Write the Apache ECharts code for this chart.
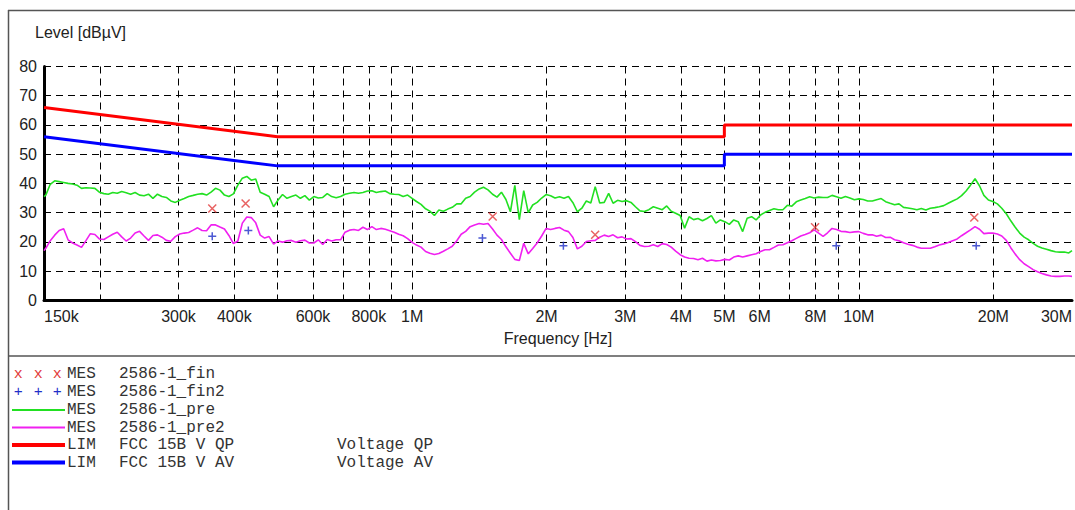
<!DOCTYPE html>
<html><head><meta charset="utf-8">
<script src="https://cdn.jsdelivr.net/npm/echarts@6/dist/echarts.min.js"></script>
<style>html,body{margin:0;padding:0;background:#fff}#c{width:1075px;height:510px}</style>
</head><body><div id="c"></div>
<script>
// Frequencies of the scans (kHz)
const FREQ_KHZ = [150,
151.4,154.9,158.5,162.2,166.0,169.8,173.8,177.8,182.0,186.2,190.5,195.0,199.5,204.2,208.9,213.8,218.8,223.9,229.1,234.4,239.9,245.5,251.2,257.0,263.0,269.2,275.4,281.8,288.4,295.1,302.0,309.0,316.2,323.6,331.1,338.8,346.7,354.8,363.1,371.5,380.2,389.0,398.1,407.4,416.9,426.6,436.5,446.7,457.1,467.7,478.6,489.8,501.2,512.9,524.8,537.0,549.5,562.3,575.4,588.8,602.6,616.6,631.0,645.7,660.7,676.1,691.8,707.9,724.4,741.3,758.6,776.2,794.3,812.8,831.8,851.1,871.0,891.3,912.0,933.3,955.0,977.2,
1000,1023,1047,1072,1096,1122,1148,1175,1202,1230,1259,1288,1318,1349,1380,1413,1445,1479,1514,1549,1585,1622,1660,1698,1738,1778,1820,1862,1905,1950,1995,2042,2089,2138,2188,2239,2291,2344,2399,2455,2512,2570,2630,2692,2754,2818,2884,2951,3020,3090,3162,3236,3311,3388,3467,3548,3631,3715,3802,3890,3981,4074,4169,4266,4365,4467,4571,4677,4786,4898,5012,5129,5248,5370,5495,5623,5754,5888,6026,6166,6310,6457,6607,6761,6918,7079,7244,7413,7586,7762,7943,8128,8318,8511,8710,8913,9120,9333,9550,9772,
10000,10230,10470,10720,10960,11220,11480,11750,12020,12300,12590,12880,13180,13490,13800,14130,14450,14790,15140,15490,15850,16220,16600,16980,17380,17780,18200,18620,19050,19500,19950,20420,20890,21380,21880,22390,22910,23440,23990,24550,25120,25700,26300,26920,27540,28180,28840,29510,
30000];

// MES 2586-1_pre (dBµV)
const PRE = [35.5,
36.0,39.7,40.9,40.6,40.3,40.0,39.8,39.4,38.3,38.5,
38.4,38.3,37.0,36.5,36.3,36.9,36.6,37.2,36.8,36.3,
36.9,36.0,35.8,36.3,34.9,36.3,35.5,35.2,34.0,33.5,
34.2,34.8,35.5,35.9,36.3,36.5,36.0,37.0,38.3,37.7,
36.0,35.5,36.4,39.4,41.8,42.4,41.1,41.5,37.0,36.3,
35.5,32.0,34.3,36.2,34.9,35.5,36.0,34.9,35.8,34.3,
35.5,35.0,35.2,36.5,35.5,35.1,35.5,36.3,36.6,36.9,
36.6,36.9,37.4,37.5,36.9,37.2,37.4,36.5,36.3,36.2,
35.5,36.0,34.9,33.8,32.8,31.3,30.5,29.0,30.9,30.5,
31.2,31.8,33.0,33.0,34.9,35.5,37.0,38.1,38.7,37.8,
36.3,35.3,37.0,34.5,30.3,39.3,27.6,37.5,30.0,32.6,
33.5,35.0,36.2,35.8,35.0,35.4,34.9,35.5,33.4,30.3,
31.5,34.0,33.3,38.9,33.3,33.5,36.6,33.2,34.2,33.8,
34.1,33.5,32.0,30.6,30.4,31.0,32.0,31.5,31.0,32.3,
30.5,29.8,29.0,24.7,28.6,27.6,28.0,27.2,28.0,29.0,
26.4,27.5,26.9,26.0,27.5,26.9,23.5,28.1,28.6,27.5,
29.2,30.1,30.7,31.3,31.0,31.0,32.5,32.2,33.7,34.3,
34.8,35.4,35.0,35.3,35.2,35.2,35.9,35.4,34.9,35.5,
35.0,34.4,34.7,34.5,34.0,34.0,34.4,34.8,33.75,33.2,
32.7,33.0,31.8,31.6,31.3,31.0,31.4,30.9,31.5,31.7,
32.0,32.4,33.2,34.0,34.7,35.8,37.4,39.4,41.6,39.2,
35.9,34.3,33.8,33.0,31.5,29.6,27.2,25.0,23.0,21.6,
20.7,19.5,18.5,17.9,17.5,17.0,16.6,16.5,16.5,16.2,
17.0];

// MES 2586-1_pre2 (dBµV)
const PRE2 = [17.0,
17.8,20.4,22.3,23.9,24.5,20.7,19.6,18.9,18.1,20.4,
22.8,22.5,21.0,20.8,21.7,22.6,23.3,21.7,20.3,21.3,
23.0,23.6,22.0,20.5,22.2,22.4,21.6,20.5,20.2,21.8,
22.7,23.0,23.2,24.0,24.8,23.9,23.8,25.8,25.8,25.1,
24.4,22.2,19.4,20.3,26.4,28.5,28.3,26.5,22.3,21.3,
21.8,19.2,20.3,19.9,20.4,20.5,19.9,20.4,20.6,19.6,
19.6,20.7,19.1,20.8,20.3,20.7,20.7,23.3,24.0,24.2,
23.9,25.0,24.2,25.2,24.2,24.6,24.3,23.8,23.3,22.6,
22.1,21.1,19.8,18.9,18.2,16.7,16.1,15.7,16.0,16.8,
17.6,18.5,20.4,22.6,23.6,25.2,25.8,26.3,26.0,26.3,
24.4,22.3,20.8,18.3,16.1,14.0,13.6,19.5,15.9,17.7,
19.6,22.0,24.6,24.2,24.6,24.9,24.0,23.5,21.5,17.6,
18.5,20.1,20.4,20.5,21.6,22.3,21.8,22.4,21.4,21.7,
21.0,21.1,20.1,18.8,18.4,18.5,19.0,18.4,19.4,19.1,
18.2,16.8,15.6,14.8,14.4,14.3,13.9,14.4,13.4,13.8,
13.5,13.6,14.0,13.8,14.8,15.2,14.8,15.2,15.6,15.9,
16.7,17.3,17.3,18.1,18.9,19.0,19.7,20.4,21.2,22.0,
22.5,23.1,24.1,23.0,21.9,23.1,24.6,24.2,23.6,23.5,
23.2,23.4,23.5,22.9,22.4,22.4,21.9,22.3,21.5,21.6,
20.7,20.4,19.7,19.2,18.8,18.2,17.8,17.8,17.8,18.3,
18.9,19.3,19.8,20.4,21.0,22.1,23.1,24.1,25.2,24.3,
22.8,23.0,23.0,22.7,22.0,20.5,18.0,15.8,13.9,12.5,
11.5,10.5,9.8,9.2,8.7,8.3,8.2,8.2,8.3,8.3,
8.2];

// Final measurements
const FIN_KHZ = [357, 424, 1515, 2569, 7980, 18130];
const FIN = [31.4, 33.1, 28.7, 22.4, 25.0, 28.3];
const FIN2_KHZ = [357, 430, 1437, 2181, 8900, 18310];
const FIN2 = [21.9, 23.9, 21.3, 18.7, 18.7, 18.7];

// Limits FCC 15B V
const LIM_KHZ = [150, 500, 5000, 5000, 30000];
const LIM_QP = [66, 56, 56, 60, 60];
const LIM_AV = [56, 46, 46, 50, 50];

// Axis ticks
const X_LABEL_KHZ = [150,300,400,600,800,1000,2000,3000,4000,5000,6000,8000,10000,20000,30000];
const X_LABELS = ['150k','300k','400k','600k','800k','1M','2M','3M','4M','5M','6M','8M','10M','20M','30M'];
const X_GRID_KHZ = [200,300,400,500,600,700,800,900,1000,2000,3000,4000,5000,6000,7000,8000,9000,10000,20000];

if (PRE.length !== FREQ_KHZ.length || PRE2.length !== FREQ_KHZ.length) {
  throw new Error('length mismatch ' + FREQ_KHZ.length + ' ' + PRE.length + ' ' + PRE2.length);
}

const lg = k => Math.log10(k * 1000);
const pairs = (fs, vs) => fs.map((f, i) => [lg(f), vs[i]]);
const labelPos = X_LABEL_KHZ.map(lg);

const SANS = 'Liberation Sans, Arial, sans-serif';
const MONO = 'Liberation Mono, Courier New, monospace';
const dash = [7, 5];

const chart = echarts.init(document.getElementById('c'), null, { renderer: 'svg' });

const legendRows = [
  { y: 374, kind: 'x', color: '#e23b3b', a: 'MES', b: '2586-1_fin', c: '' },
  { y: 392, kind: '+', color: '#1f2fc8', a: 'MES', b: '2586-1_fin2', c: '' },
  { y: 410, kind: 'line', color: '#22e022', w: 2, a: 'MES', b: '2586-1_pre', c: '' },
  { y: 427.5, kind: 'line', color: '#f020f0', w: 2, a: 'MES', b: '2586-1_pre2', c: '' },
  { y: 445, kind: 'line', color: '#ff0000', w: 4, a: 'LIM', b: 'FCC 15B V QP', c: 'Voltage QP' },
  { y: 462.5, kind: 'line', color: '#0000ff', w: 4, a: 'LIM', b: 'FCC 15B V AV', c: 'Voltage AV' }
];
const graphics = [
  { type: 'line', shape: { x1: 8, y1: 10.5, x2: 1075, y2: 10.5 }, style: { stroke: '#555', lineWidth: 1.5 } },
  { type: 'line', shape: { x1: 8.5, y1: 10, x2: 8.5, y2: 510 }, style: { stroke: '#555', lineWidth: 1.5 } },
  { type: 'line', shape: { x1: 8, y1: 356, x2: 1075, y2: 356 }, style: { stroke: '#555', lineWidth: 1.5 } }
];
legendRows.forEach(r => {
  if (r.kind === 'line') {
    graphics.push({ type: 'line', shape: { x1: 12, y1: r.y, x2: 65, y2: r.y }, style: { stroke: r.color, lineWidth: r.w } });
  } else {
    [18.3, 38.3, 57.3].forEach(x => graphics.push({
      type: 'text', x: x, y: r.y,
      style: { text: r.kind, fill: r.color, font: '15px ' + MONO, textAlign: 'center', textVerticalAlign: 'middle' }
    }));
  }
  [[67, r.a], [119, r.b], [337, r.c]].forEach(([x, t]) => {
    if (t) graphics.push({
      type: 'text', x: x, y: r.y,
      style: { text: t, fill: '#333', font: '16px ' + MONO, textAlign: 'left', textVerticalAlign: 'middle' }
    });
  });
});

const option = {
  animation: false,
  backgroundColor: '#fff',
  grid: { left: 44, top: 66.5, width: 1033, height: 233.8, containLabel: false },
  xAxis: {
    type: 'value', min: lg(150), max: lg(30000),
    name: 'Frequency [Hz]', nameLocation: 'middle', nameGap: 30,
    nameTextStyle: { fontFamily: SANS, fontSize: 16, color: '#222' },
    axisLine: { show: true, onZero: false, lineStyle: { color: '#000', width: 3 } },
    axisTick: { show: false, customValues: X_GRID_KHZ.map(lg) },
    axisLabel: {
      customValues: labelPos, margin: 8,
      alignMinLabel: 'left', alignMaxLabel: 'right',
      fontFamily: SANS, fontSize: 16, color: '#222',
      formatter: v => { const i = labelPos.findIndex(p => Math.abs(p - v) < 1e-6); return i >= 0 ? X_LABELS[i] : ''; }
    },
    splitLine: { show: true, lineStyle: { color: '#000', width: 1, type: dash } }
  },
  yAxis: {
    type: 'value', min: 0, max: 80, interval: 10,
    name: 'Level [dBµV]', nameLocation: 'end', nameGap: 26,
    nameTextStyle: { fontFamily: SANS, fontSize: 16, color: '#222', align: 'left', padding: [0, 0, 0, -9] },
    axisLine: { show: true, lineStyle: { color: '#000', width: 3 } },
    axisTick: { show: false },
    axisLabel: { fontFamily: SANS, fontSize: 16, color: '#222', margin: 7 },
    splitLine: { show: true, lineStyle: { color: '#000', width: 1, type: dash } }
  },
  graphic: graphics,
  series: [
    { name: 'MES 2586-1_pre', type: 'line', data: pairs(FREQ_KHZ, PRE), showSymbol: false, symbol: 'none',
      lineStyle: { color: '#22e022', width: 1.6 }, z: 3 },
    { name: 'MES 2586-1_pre2', type: 'line', data: pairs(FREQ_KHZ, PRE2), showSymbol: false, symbol: 'none',
      lineStyle: { color: '#f020f0', width: 1.6 }, z: 3 },
    { name: 'LIM FCC 15B V QP', type: 'line', data: pairs(LIM_KHZ, LIM_QP), showSymbol: false, symbol: 'none',
      lineStyle: { color: '#ff0000', width: 3 }, z: 4 },
    { name: 'LIM FCC 15B V AV', type: 'line', data: pairs(LIM_KHZ, LIM_AV), showSymbol: false, symbol: 'none',
      lineStyle: { color: '#0000ff', width: 3 }, z: 4 },
    { name: 'MES 2586-1_fin', type: 'scatter', data: pairs(FIN_KHZ, FIN),
      symbol: 'path://M0,0L10,10M10,0L0,10', symbolSize: 8,
      itemStyle: { color: 'rgba(0,0,0,0)', borderColor: '#e23b3b', borderWidth: 1.5 }, z: 5 },
    { name: 'MES 2586-1_fin2', type: 'scatter', data: pairs(FIN2_KHZ, FIN2),
      symbol: 'path://M5,0L5,10M0,5L10,5', symbolSize: 8,
      itemStyle: { color: 'rgba(0,0,0,0)', borderColor: '#1f2fc8', borderWidth: 1.5 }, z: 5 }
  ]
};
chart.setOption(option);
</script>
</body></html>
